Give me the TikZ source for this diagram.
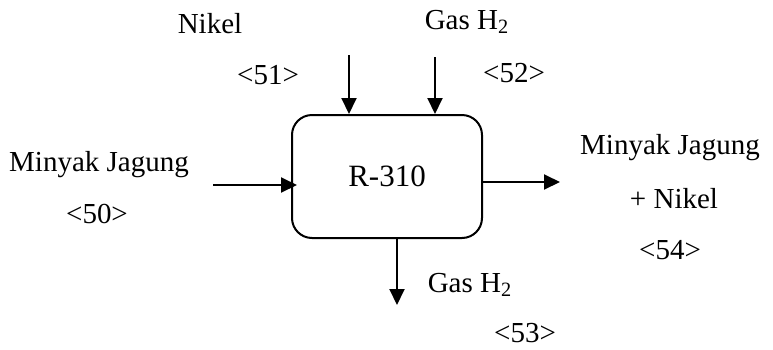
\documentclass[tikz,border=0pt]{standalone}
\usepackage{fontspec}
\setmainfont{Liberation Serif}
\usetikzlibrary{arrows.meta}
\begin{document}
\begin{tikzpicture}[x=0.5pt,y=-0.5pt,
  lbl/.style={font=\fontsize{14.5}{17}\selectfont, inner sep=0pt},
  flow/.style={line width=1pt,-{Triangle[length=8pt,width=7.5pt]}},
  unit/.style={draw,line width=1pt,rounded corners=10pt,minimum width=95pt,minimum height=61.5pt,font=\fontsize{15.5}{18}\selectfont}]
\useasboundingbox (0,0) rectangle (773,349);
\node[unit] (b) at (387,176.5) {R-310};
% labels
\node[lbl] (t51) at (210,24) {Nikel};
\node[lbl] (n51) at (268,75) {<51>};
\node[lbl] (t52) at (467,22) {Gas H\textsubscript{2}};
\node[lbl] (n52) at (514,73) {<52>};
\node[lbl] (t50) at (99,165) {Minyak Jagung};
\node[lbl] (n50) at (97,214) {<50>};
\node[lbl] (t54a) at (670,148) {Minyak Jagung};
\node[lbl] (t54b) at (674,199) {+ Nikel};
\node[lbl] (n54) at (670,250) {<54>};
\node[lbl] (t53) at (470,285) {Gas H\textsubscript{2}};
\node[lbl] (n53) at (525,333) {<53>};
% stream ends
\coordinate (s51) at (349,55);
\coordinate (s52) at (435,57);
\coordinate (s50) at (213,185);
\coordinate (e54) at (560,182);
\coordinate (e53) at (397,305);
\draw[flow] (s51) -- (s51 |- b.north);
\draw[flow] (s52) -- (s52 |- b.north);
\draw[flow] (s50) -- ([xshift=3pt]s50 -| b.west);
\draw[flow] (e54 -| b.east) -- (e54);
\draw[flow] (e53 |- b.south) -- (e53);
\end{tikzpicture}
\end{document}
